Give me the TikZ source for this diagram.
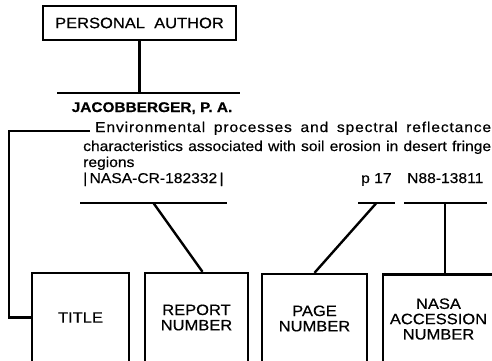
\documentclass[tikz,border=0pt]{standalone}
\usepackage{fontspec}
\setmainfont{Liberation Sans}[FakeStretch=1.1, FakeBold=0.5]
\usetikzlibrary{positioning}

\begin{document}
\begin{tikzpicture}[x=1pt, y=-1pt, line width=2.4pt,
  field/.style={draw, minimum height=89pt, align=center, inner sep=1pt,
    font=\fontsize{15}{15.3}\selectfont},
  entry/.style={anchor=base west, inner ysep=0pt, inner xsep=2pt,
    font=\fontsize{14.2}{17}\selectfont}]
\useasboundingbox (0,0) rectangle (492,360);
\clip (0,0) rectangle (492,360);

\node [draw, minimum width=193pt, minimum height=34pt, font=\fontsize{15}{15}\selectfont] (author) at (139.5,23) {PERSONAL\ \ AUTHOR};
\coordinate (rule-w) at (57,93);
\coordinate (rule-e) at (240,93);
\draw (author.south) -- (author.south |- rule-w);
\draw (rule-w) -- (rule-e);
\node [anchor=base, inner sep=0pt, font=\bfseries\fontsize{14}{14}\selectfont] (name) at (152,112) {JACOBBERGER, P. A.};

% citation lines
\node [entry] (line1) at (92,132) {\addfontfeature{LetterSpace=6}\makebox[396pt][s]{Environmental processes and spectral reflectance}};
\node [entry] (line2) at (80,151) {\makebox[408pt][s]{characteristics associated with soil erosion in desert fringe}};
\node [entry] (line3) at (80,167) {regions};
\node [entry] (reportno) at (80,183) {\textbar\,NASA-CR-182332\,\textbar};
\node [entry] (pageno) at (358,183) {p 17};
\node [entry] (accno) at (404,183) {N88-13811};
\coordinate (lead) at (90,131);
\coordinate (ul) at (0,203);
\draw (reportno.west |- ul) -- (reportno.east |- ul);
\draw (pageno.west |- ul) -- (pageno.east |- ul);
\draw (accno.west |- ul) -- (accno.east |- ul);

% boxes
\node [field, minimum width=97pt] (title) at (80.5,317.5) {TITLE};
\node [field, minimum width=103pt] (report) at (196.5,317.5) {REPORT\\NUMBER};
\node [field, minimum width=105pt] (page) at (314.5,318.5) {PAGE\\NUMBER};
\node [field, minimum width=111pt] (accession) at (438.5,319) {NASA\\ACCESSION\\NUMBER};

\draw (lead) -| ([xshift=-22pt]title.west) -- (title.west);
\draw (reportno.center |- ul) -- ([xshift=6pt]report.north);
\draw (pageno.center |- ul) -- (page.north);
\draw (accno.center |- ul) -- (accno.center |- accession.north);
\end{tikzpicture}
\end{document}
